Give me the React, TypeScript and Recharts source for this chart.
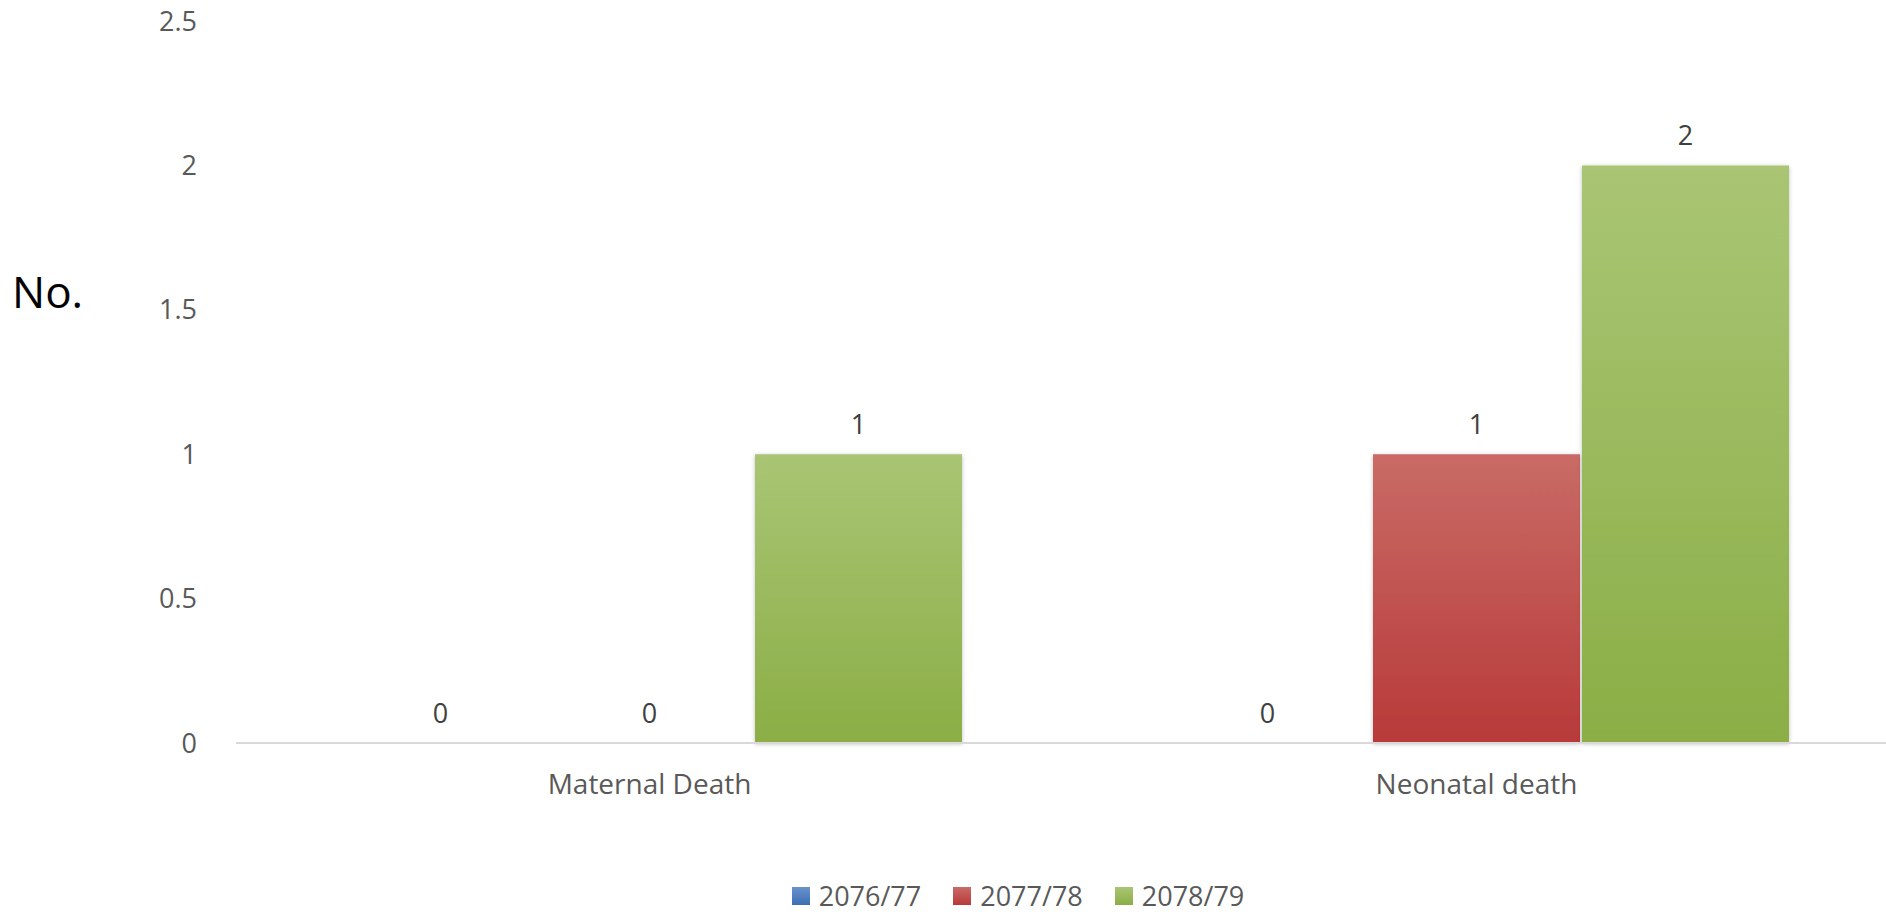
import React from "react";
import {
  BarChart, Bar, XAxis, YAxis, Legend, LabelList, Label,
} from "recharts";

const categories = ["Maternal Death", "Neonatal death"];
const years      = ["2076/77", "2077/78", "2078/79"];
const y2076      = [0, 0];
const y2077      = [0, 1];
const y2078      = [1, 2];
const yTicks     = [0, 0.5, 1, 1.5, 2, 2.5];

const data = categories.map((name, i) => ({
  name,
  "2076/77": y2076[i],
  "2077/78": y2077[i],
  "2078/79": y2078[i],
}));

const COLORS: Record<string, [string, string]> = {
  "2076/77": ["#6A93CC", "#3C6EB4"],
  "2077/78": ["#C96B66", "#B83A39"],
  "2078/79": ["#A9C574", "#8BAE46"],
};

const FONT = "'Open Sans', sans-serif";
const TICK = "#595959";

function LegendBox() {
  return (
    <div style={{
      display: "flex", justifyContent: "center", alignItems: "center",
      fontFamily: FONT, fontSize: 27, color: TICK, paddingLeft: 150, lineHeight: "36px",
    }}>
      {years.map((y, i) => (
        <div key={y} style={{ display: "flex", alignItems: "center", marginRight: i < years.length - 1 ? 32 : 0 }}>
          <span style={{
            width: 18, height: 18, marginRight: 9, display: "inline-block",
            background: `linear-gradient(${COLORS[y][0]}, ${COLORS[y][1]})`,
          }} />
          <span>{y}</span>
        </div>
      ))}
    </div>
  );
}

export default function App() {
  return (
    <div style={{ position: "absolute", left: 0, top: 0, width: 1886, height: 914, background: "#fff", overflow: "hidden" }}>
      <BarChart
        width={1890} height={914} data={data}
        margin={{ top: 21, right: 0, left: 0, bottom: 0 }}
        barCategoryGap={101} barGap={2}
      >
        <defs>
          {years.map((y, i) => (
            <linearGradient key={y} id={`g${i}`} x1="0" y1="0" x2="0" y2="1">
              <stop offset="0%"   stopColor={COLORS[y][0]} />
              <stop offset="100%" stopColor={COLORS[y][1]} />
            </linearGradient>
          ))}
          <filter id="shadow" x="-10%" y="-10%" width="120%" height="120%">
            <feDropShadow dx="0" dy="1" stdDeviation="2" floodColor="#000" floodOpacity="0.25" />
          </filter>
        </defs>
        <XAxis
          dataKey="name"
          height={135}
          tickSize={0} tickMargin={31}
          tick={{ fill: TICK, fontSize: 28, fontFamily: FONT }}
          axisLine={{ stroke: "#D9D9D9", strokeWidth: 2 }}
          tickLine={false}
        />
        <YAxis
          width={236}
          domain={[0, 2.5]} ticks={yTicks} interval={0}
          tickSize={0} tickMargin={39}
          tick={{ fill: TICK, fontSize: 27, fontFamily: FONT }}
          axisLine={false} tickLine={false}
        >
          <Label
            value="No." position="insideLeft" offset={12} dy={-90}
            style={{ fill: "#000", fontSize: 44, fontFamily: FONT, textAnchor: "start" }}
          />
        </YAxis>
        <Legend
          verticalAlign="bottom"
          wrapperStyle={{ top: 878, left: 0, width: 1886, height: 36 }}
          content={() => <LegendBox />}
        />
        {years.map((y, i) => (
          <Bar
            key={y} dataKey={y} fill={`url(#g${i})`} filter="url(#shadow)"
            minPointSize={0.01} isAnimationActive={false}
          >
            <LabelList dataKey={y} position="top" offset={20} fill="#404040" fontSize={27} fontFamily={FONT} />
          </Bar>
        ))}
      </BarChart>
    </div>
  );
}
